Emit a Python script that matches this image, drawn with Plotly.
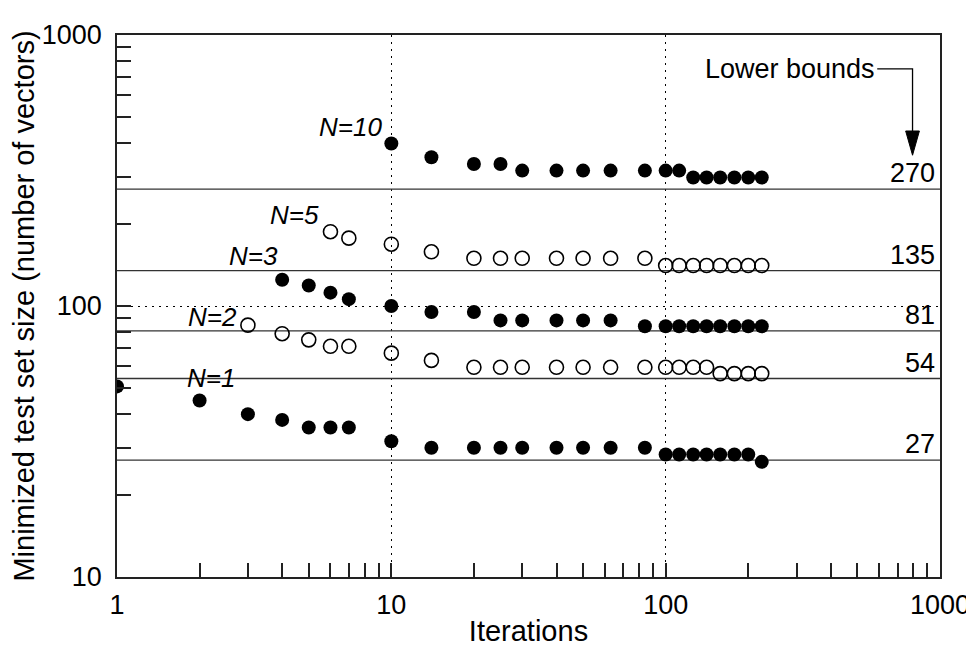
import numpy as np
import plotly.graph_objects as go

# ---------------- data ----------------
iters_n1 = [1, 2, 3, 4, 5, 6, 7, 10, 14, 20, 25, 30, 40, 50, 63, 84,
            100, 112, 126, 141, 158, 178, 200, 224]
size_n1 = [50.5, 44.8, 39.9, 38.0, 35.6, 35.6, 35.6, 31.7, 30.0, 30.0, 30.0, 30.0,
           30.0, 30.0, 30.0, 30.0, 28.3, 28.3, 28.3, 28.3, 28.3, 28.3, 28.3, 26.6]

iters_n2 = [3, 4, 5, 6, 7, 10, 14, 20, 25, 30, 40, 50, 63, 84,
            100, 112, 126, 141, 158, 178, 200, 224]
size_n2 = [85, 79, 75, 71, 71, 67, 63, 59.4, 59.4, 59.4, 59.4, 59.4, 59.4, 59.4,
           59.4, 59.4, 59.4, 59.4, 56.3, 56.3, 56.3, 56.3]

iters_n3 = [4, 5, 6, 7, 10, 14, 20, 25, 30, 40, 50, 63, 84,
            100, 112, 126, 141, 158, 178, 200, 224]
size_n3 = [125, 119, 112, 106, 100, 95, 95, 88.5, 88.5, 88.5, 88.5, 88.5, 84.2,
           84.2, 84.2, 84.2, 84.2, 84.2, 84.2, 84.2, 84.2]

iters_n5 = [6, 7, 10, 14, 20, 25, 30, 40, 50, 63, 84,
            100, 112, 126, 141, 158, 178, 200, 224]
size_n5 = [188, 178, 169, 158.5, 150, 150, 150, 150, 150, 150, 150,
           141, 141, 141, 141, 141, 141, 141, 141]

iters_n10 = [10, 14, 20, 25, 30, 40, 50, 63, 84,
             100, 112, 126, 141, 158, 178, 200, 224]
size_n10 = [398, 354, 334, 334, 316, 316, 316, 316, 316,
            316, 316, 298, 298, 298, 298, 298, 298]

lower_bounds = [27, 54, 81, 135, 270]
bound_labels = ["27", "54", "81", "135", "270"]
series_labels = ["N=1", "N=2", "N=3", "N=5", "N=10"]

x_tickvals = [1, 10, 100, 1000]
x_ticktext = ["1", "10", "100", "1000"]
y_tickvals = [10, 100, 1000]
y_ticktext = ["10", "100", "1000"]
minor_vals = [m * d for d in (1, 10, 100) for m in range(2, 10)]

# ---------------- figure ----------------
FONT = "Liberation Sans, Arial, Helvetica, sans-serif"
fig = go.Figure()

for b in lower_bounds:
    fig.add_trace(go.Scatter(x=[1, 1000], y=[b, b], mode="lines",
                             line=dict(color="#333333", width=1.3),
                             hoverinfo="skip", showlegend=False))

filled = dict(symbol="circle", size=14, color="black", line=dict(width=0))
hollow = dict(symbol="circle-open", size=14, color="black", line=dict(width=1.6))

for xs, ys, mk in [(iters_n1, size_n1, filled), (iters_n2, size_n2, hollow),
                   (iters_n3, size_n3, filled), (iters_n5, size_n5, hollow),
                   (iters_n10, size_n10, filled)]:
    fig.add_trace(go.Scatter(x=xs, y=ys, mode="markers", marker=mk,
                             showlegend=False))

L, R, T, B = 103, 32, 14, 73
W, H = 974, 646
pw, ph = W - L - R, H - T - B


def px(x):
    return (x - L) / pw


def py(y):
    return (H - B - y) / ph


annotations = []
# series labels (positions in paper space)
label_pos = [(199, 368), (200, 305), (242, 242), (284, 200), (341, 109)]
for txt, (lx, ly) in zip(series_labels, label_pos):
    annotations.append(dict(text=f"<i>{txt}</i>", x=px(lx), y=py(ly),
                            xref="paper", yref="paper", showarrow=False,
                            xanchor="center", yanchor="middle",
                            font=dict(family=FONT, size=26, color="black")))
# lower bound labels
for b, t in zip(lower_bounds, bound_labels):
    annotations.append(dict(text=t, x=px(939), y=np.log10(b), xref="paper",
                            yref="y", showarrow=False, xanchor="right",
                            yanchor="bottom", yshift=-1,
                            font=dict(family=FONT, size=27, color="black")))
annotations.append(dict(text="Lower bounds", x=px(878), y=py(49), xref="paper",
                        yref="paper", showarrow=False, xanchor="right",
                        yanchor="middle",
                        font=dict(family=FONT, size=27, color="black")))

shapes = [
    dict(type="path", xref="paper", yref="paper",
         path=f"M {px(878)} {py(49)} L {px(914)} {py(49)} L {px(914)} {py(116)}",
         line=dict(color="black", width=1.3)),
    dict(type="path", xref="paper", yref="paper",
         path=f"M {px(907)} {py(113)} L {px(921)} {py(113)} L {px(914)} {py(138)} Z",
         fillcolor="black", line=dict(color="black", width=1)),
]

axis_common = dict(
    type="log", showline=True, linecolor="#222", linewidth=1.5, mirror=True,
    ticks="inside", ticklen=14, tickwidth=1.5, tickcolor="#222",
    showgrid=True, gridcolor="black", gridwidth=1, griddash="2px,5px",
    zeroline=False, tickmode="array", ticklabeloverflow="allow",
    tickfont=dict(family=FONT, size=27, color="black"),
    minor=dict(tickmode="array", tickvals=minor_vals, ticks="inside",
               ticklen=14, tickwidth=1.5, tickcolor="#222", showgrid=False),
)

fig.update_layout(
    width=W, height=H,
    margin=dict(l=L, r=R, t=T, b=B, pad=0),
    paper_bgcolor="white", plot_bgcolor="white",
    showlegend=False,
    xaxis=dict(axis_common, range=[0, 3.00001], tickvals=x_tickvals, ticktext=x_ticktext,
               ticklabelstandoff=3,
               title=dict(text="Iterations", standoff=2,
                          font=dict(family=FONT, size=29, color="black"))),
    yaxis=dict(axis_common, range=[1, 3.00001], tickvals=y_tickvals, ticktext=y_ticktext,
               ticklabelstandoff=8,
               title=dict(text="Minimized test set size (number of vectors)",
                          standoff=1,
                          font=dict(family=FONT, size=29, color="black"))),
    annotations=annotations,
    shapes=shapes,
)

fig.write_html("out.html")
